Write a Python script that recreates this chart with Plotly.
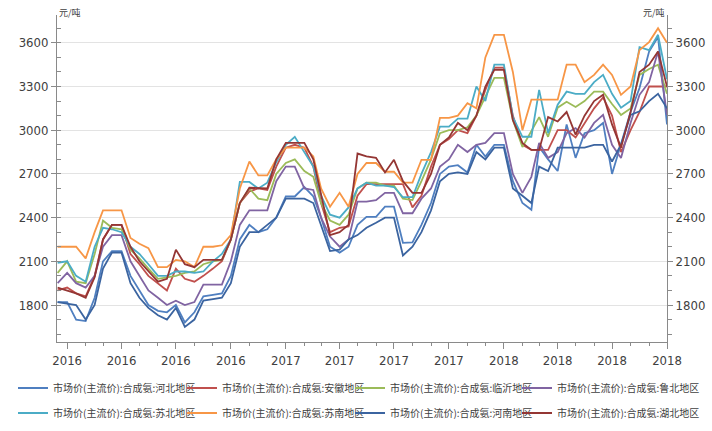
import plotly.graph_objects as go

DATES = [
    "2015-12-16",
    "2016-01-01", "2016-01-16", "2016-02-01", "2016-02-16", "2016-03-01", "2016-03-16",
    "2016-04-01", "2016-04-16", "2016-05-01", "2016-05-16", "2016-06-01", "2016-06-16",
    "2016-07-01", "2016-07-16", "2016-08-01", "2016-08-16", "2016-09-01", "2016-09-16",
    "2016-10-01", "2016-10-16", "2016-11-01", "2016-11-16", "2016-12-01", "2016-12-16",
    "2017-01-01", "2017-01-16", "2017-02-01", "2017-02-16", "2017-03-01", "2017-03-16",
    "2017-04-01", "2017-04-16", "2017-05-01", "2017-05-16", "2017-06-01", "2017-06-16",
    "2017-07-01", "2017-07-16", "2017-08-01", "2017-08-16", "2017-09-01", "2017-09-16",
    "2017-10-01", "2017-10-16", "2017-11-01", "2017-11-16", "2017-12-01", "2017-12-16",
    "2018-01-01", "2018-01-16", "2018-02-01", "2018-02-16", "2018-03-01", "2018-03-16",
    "2018-04-01", "2018-04-16", "2018-05-01", "2018-05-16", "2018-06-01", "2018-06-16",
    "2018-07-01", "2018-07-16", "2018-08-01", "2018-08-16", "2018-09-01", "2018-09-16",
    "2018-10-01",
]

HEBEI = [1820, 1820, 1700, 1690, 1850, 2100, 2170, 2170, 2000, 1900,
         1800, 1760, 1750, 1800, 1680, 1750, 1860, 1870, 1880, 2000,
         2250, 2350, 2300, 2320, 2400, 2545, 2545, 2610, 2545, 2400,
         2200, 2160, 2200, 2350, 2405, 2405, 2475, 2475, 2227, 2230,
         2350, 2500, 2700, 2750, 2760, 2710, 2900, 2820, 2900, 2900,
         2650, 2500, 2454, 2885, 2800, 2720, 3040, 2810, 2980, 3000,
         3050, 2700, 2900, 3125, 3290, 3540, 3640, 3040]
ANHUI = [1900, 1920, 1880, 1860, 2000, 2250, 2350, 2350, 2150, 2080,
         2000, 1950, 1900, 2050, 1980, 1960, 2000, 2050, 2100, 2250,
         2500, 2580, 2600, 2590, 2750, 2880, 2900, 2880, 2750, 2500,
         2300, 2330, 2340, 2550, 2630, 2630, 2630, 2630, 2630, 2470,
         2550, 2750, 2900, 2940, 3000, 2980, 3100, 3277, 3430, 3430,
         3100, 2900, 2865, 2865, 2865, 3000, 3000, 2950, 3050, 3150,
         3225, 3100, 2850, 3000, 3125, 3300, 3300, 3300]
LINYI = [2020, 2100, 1960, 1950, 2150, 2380, 2330, 2320, 2180, 2120,
         2050, 1980, 1990, 2000, 2020, 2030, 2080, 2100, 2110, 2250,
         2500, 2600, 2530, 2520, 2700, 2775, 2800, 2720, 2680, 2500,
         2380, 2350, 2420, 2600, 2640, 2640, 2620, 2620, 2530, 2520,
         2650, 2800, 2980, 3000, 3000, 3020, 3100, 3230, 3360, 3360,
         3070, 2885, 3000, 3090, 2955, 3155, 3195, 3160, 3200, 3265,
         3265, 3180, 3105, 3150, 3380, 3420, 3450, 3250]
LUBEI = [1950, 2020, 1950, 1920, 2000, 2200, 2280, 2280, 2100, 2000,
         1900, 1850, 1800, 1830, 1800, 1820, 1940, 1940, 1940, 2100,
         2350, 2450, 2450, 2450, 2650, 2750, 2750, 2600, 2590, 2400,
         2270, 2200, 2250, 2510, 2510, 2520, 2570, 2570, 2430, 2430,
         2530, 2600, 2750, 2800, 2900, 2850, 2900, 2913, 2980, 2980,
         2700, 2570, 2680, 2913, 2810, 2850, 2980, 3015, 2950, 3050,
         3105, 2900, 2810, 3050, 3243, 3330, 3540, 3105]
SUBEI = [2090, 2100, 2000, 1960, 2200, 2330, 2320, 2300, 2200, 2150,
         2080, 2000, 2000, 2030, 2030, 2020, 2030, 2100, 2150, 2250,
         2645, 2645, 2600, 2640, 2780, 2900, 2955, 2850, 2750, 2550,
         2420, 2400, 2470, 2600, 2640, 2620, 2620, 2610, 2540, 2540,
         2700, 2850, 3025, 3025, 3080, 3080, 3300, 3200, 3450, 3450,
         3090, 2955, 2955, 3277, 2980, 3175, 3265, 3250, 3250, 3330,
         3380, 3250, 3155, 3200, 3570, 3550, 3655, 3350]
SUNAN = [2200, 2200, 2200, 2120, 2300, 2450, 2450, 2450, 2260, 2220,
         2190, 2060, 2060, 2110, 2100, 2060, 2200, 2200, 2210, 2280,
         2600, 2785, 2690, 2690, 2800, 2880, 2880, 2880, 2820, 2600,
         2475, 2570, 2475, 2700, 2775, 2775, 2715, 2715, 2640, 2640,
         2797, 2797, 3085, 3085, 3100, 3185, 3150, 3500, 3655, 3655,
         3400, 3000, 3210, 3210, 3210, 3210, 3450, 3450, 3330, 3380,
         3450, 3380, 3243, 3300, 3550, 3605, 3700, 3600]
HENAN = [1820, 1810, 1800, 1700, 1800, 2050, 2160, 2160, 1950, 1850,
         1780, 1730, 1700, 1780, 1650, 1700, 1830, 1840, 1850, 1950,
         2200, 2300, 2300, 2350, 2400, 2530, 2530, 2530, 2500, 2350,
         2170, 2180, 2250, 2280, 2330, 2365, 2400, 2400, 2140, 2200,
         2300, 2450, 2650, 2700, 2710, 2700, 2850, 2800, 2880, 2880,
         2600, 2550, 2500, 2750, 2720, 2880, 2880, 2880, 2880, 2900,
         2900, 2785, 2900, 3105, 3130, 3200, 3250, 3150]
HUBEI = [1920, 1900, 1880, 1850, 1990, 2250, 2350, 2350, 2200, 2100,
         2030, 1960, 1980, 2180, 2080, 2060, 2110, 2110, 2110, 2250,
         2500, 2605, 2605, 2600, 2800, 2913, 2913, 2913, 2800, 2550,
         2280, 2300, 2350, 2840, 2820, 2810, 2710, 2797, 2650, 2570,
         2570, 2700, 2900, 2950, 3050, 3000, 3100, 3300, 3415, 3415,
         3070, 2913, 2865, 2865, 3090, 3060, 3125, 2970, 3100, 3200,
         3243, 3040, 2880, 3125, 3400, 3450, 3540, 3300]

SERIES_NAMES = [
    "市场价(主流价):合成氨:河北地区", "市场价(主流价):合成氨:安徽地区",
    "市场价(主流价):合成氨:临沂地区", "市场价(主流价):合成氨:鲁北地区",
    "市场价(主流价):合成氨:苏北地区", "市场价(主流价):合成氨:苏南地区",
    "市场价(主流价):合成氨:河南地区", "市场价(主流价):合成氨:湖北地区",
]
SERIES_VALUES = [HEBEI, ANHUI, LINYI, LUBEI, SUBEI, SUNAN, HENAN, HUBEI]
COLORS = ["#4f7fc0", "#c0504d", "#9bbb59", "#8064a2",
          "#4bacc6", "#f79646", "#3b64a0", "#943634"]

TICK_VALS = ["2016-01-01", "2016-04-01", "2016-07-01", "2016-10-01",
             "2017-01-01", "2017-04-01", "2017-07-01", "2017-10-01",
             "2018-01-01", "2018-04-01", "2018-07-01", "2018-10-01"]
TICK_TEXT = ["2016", "2016", "2016", "2016", "2017", "2017", "2017", "2017",
             "2018", "2018", "2018", "2018"]
Y_TICKS = [1800, 2100, 2400, 2700, 3000, 3300, 3600]
UNIT = "元/吨"

for v in SERIES_VALUES:
    assert len(v) == len(DATES), len(v)

W, H = 712, 431
LEG_X = [13, 182, 350, 517]     # legend item left edges (px)
LEG_Y = [388, 413]              # legend row centres (px)

fig = go.Figure()
legend_layout = {}
for k, (name, vals, col) in enumerate(zip(SERIES_NAMES, SERIES_VALUES, COLORS)):
    key = "legend" if k == 0 else f"legend{k + 1}"
    fig.add_trace(go.Scatter(x=DATES, y=vals, name=name, mode="lines",
                             legend=key, showlegend=True,
                             line=dict(color=col, width=1.8)))
    legend_layout[key] = dict(
        orientation="h", xref="container", yref="container",
        x=LEG_X[k % 4] / W, y=1 - LEG_Y[k // 4] / H,
        xanchor="left", yanchor="middle", visible=True,
        font=dict(family="Noto Sans CJK SC", size=10, color="#404040"),
        bgcolor="rgba(0,0,0,0)")
fig.add_trace(go.Scatter(x=[], y=[], yaxis="y2", showlegend=False, hoverinfo="skip"))

tickfont = dict(family="Liberation Sans Narrow, DejaVu Sans Condensed, Liberation Sans",
                size=13, color="#404040")
axcol = "#8a8a8a"
YR = [1546, 3791]

fig.update_layout(
    width=W, height=H, showlegend=True,
    margin=dict(l=57, r=45, t=15, b=89, autoexpand=False),
    plot_bgcolor="white", paper_bgcolor="white",
    xaxis=dict(type="date", range=["2015-12-15", "2018-10-01"],
               tickvals=TICK_VALS, ticktext=TICK_TEXT, ticks="outside", ticklen=6,
               tickcolor=axcol, showline=True, linecolor=axcol, showgrid=False,
               zeroline=False, tickfont=tickfont,
               minor=dict(ticks="outside", ticklen=3, dtick="M1", tick0="2016-01-01",
                          tickcolor=axcol, showgrid=False)),
    yaxis=dict(range=YR, tickvals=Y_TICKS, ticks="outside", ticklen=5, tickcolor=axcol,
               showline=True, linecolor=axcol, gridcolor="#e3e3e3", zeroline=False,
               tickfont=tickfont,
               minor=dict(ticks="inside", ticklen=4, dtick=100, tick0=0,
                          tickcolor=axcol, showgrid=False)),
    yaxis2=dict(range=YR, tickvals=Y_TICKS, overlaying="y", side="right", anchor="x",
                ticks="outside", ticklen=5, tickcolor=axcol, showline=True, linecolor=axcol,
                showgrid=False, zeroline=False, tickfont=tickfont,
                minor=dict(ticks="outside", ticklen=4, dtick=100, tick0=0,
                           tickcolor=axcol, showgrid=False)),
    annotations=[
        dict(text=UNIT, xref="paper", yref="paper", x=0, y=1, xanchor="left",
             yanchor="middle", yshift=3, showarrow=False,
             font=dict(family="Noto Sans CJK SC", size=9, color="#404040")),
        dict(text=UNIT, xref="paper", yref="paper", x=1, y=1, xanchor="right",
             yanchor="middle", yshift=3, showarrow=False,
             font=dict(family="Noto Sans CJK SC", size=9, color="#404040")),
    ],
    **legend_layout,
)

fig.write_html("out.html", config={"displayModeBar": False},
               post_script="document.body.style.margin='0';document.body.style.overflow='hidden';")
